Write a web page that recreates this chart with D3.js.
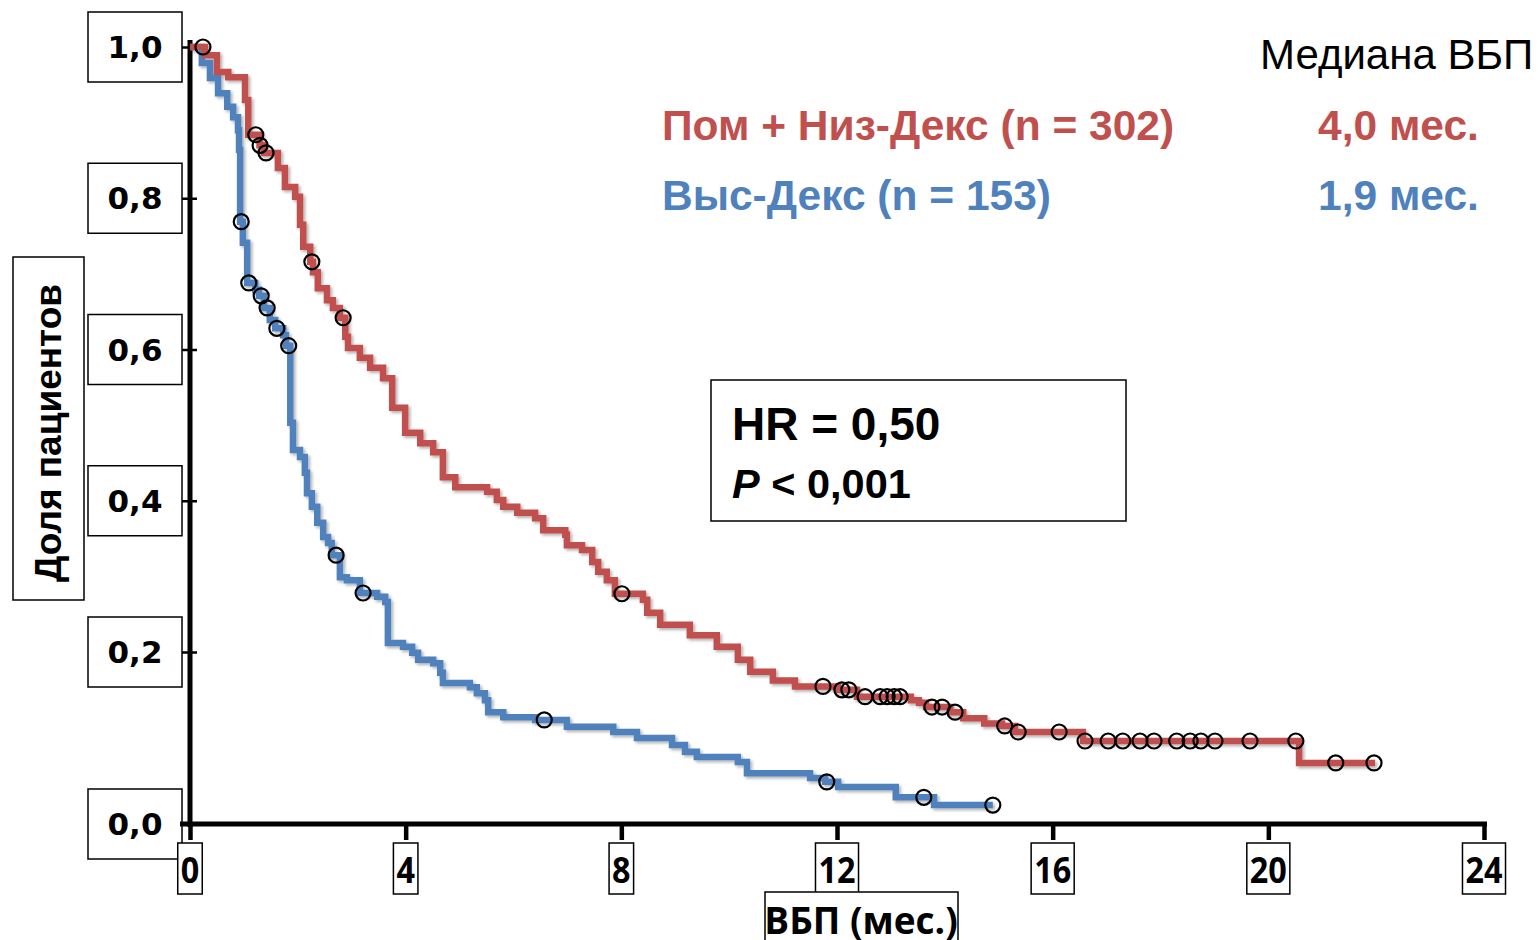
<!DOCTYPE html>
<html><head><meta charset="utf-8">
<script src="https://cdn.jsdelivr.net/npm/d3@7"></script>
<style>
html,body{margin:0;padding:0;background:#fff;}
svg{display:block;}
</style></head>
<body>
<svg id="chart" width="1539" height="940"></svg>
<script>
// ---- data ----
const xTicks = [0, 4, 8, 12, 16, 20, 24];
const yTicks = [0, 0.2, 0.4, 0.6, 0.8, 1.0];
const yTickLabels = ["0,0", "0,2", "0,4", "0,6", "0,8", "1,0"];

const redName = "Пом + Низ-Декс (n = 302)";
const redMedian = "4,0 мес.";
const redTimes = [0, 0.28, 0.50, 0.71, 1.02, 1.08, 1.29, 1.37, 1.63, 1.76, 1.95, 2.04, 2.10, 2.23, 2.28, 2.37, 2.54, 2.65, 2.78, 2.88, 2.93, 3.15, 3.34, 3.58, 3.75, 3.99, 4.27, 4.51, 4.69, 4.92, 5.51, 5.69, 5.81, 6.07, 6.40, 6.55, 6.96, 6.99, 7.27, 7.46, 7.57, 7.73, 7.88, 8.40, 8.48, 8.72, 9.27, 9.77, 10.16, 10.39, 10.81, 11.22, 12.02, 12.37, 13.37, 13.52, 13.65, 14.10, 14.34, 14.73, 15.06, 15.30, 16.56, 20.57];
const redSurv = [1.0, 0.989, 0.967, 0.960, 0.930, 0.884, 0.870, 0.860, 0.840, 0.815, 0.802, 0.765, 0.736, 0.716, 0.702, 0.681, 0.665, 0.655, 0.642, 0.617, 0.602, 0.589, 0.576, 0.562, 0.523, 0.490, 0.476, 0.464, 0.431, 0.418, 0.412, 0.401, 0.392, 0.384, 0.377, 0.361, 0.355, 0.341, 0.335, 0.319, 0.306, 0.295, 0.277, 0.269, 0.252, 0.236, 0.222, 0.207, 0.191, 0.177, 0.167, 0.160, 0.156, 0.148, 0.144, 0.141, 0.136, 0.130, 0.123, 0.117, 0.114, 0.107, 0.0965, 0.071];
const redEnd = 21.98;
const redCensor = [0.24, 1.22, 1.30, 1.41, 2.26, 2.84, 8.01, 11.74, 12.09, 12.22, 12.52, 12.80, 12.93, 13.06, 13.17, 13.76, 13.95, 14.19, 15.11, 15.36, 16.12, 16.60, 17.03, 17.30, 17.62, 17.88, 18.30, 18.55, 18.75, 19.01, 19.66, 20.51, 21.25, 21.96];

const blueName = "Выс-Декс (n = 153)";
const blueMedian = "1,9 мес.";
const blueTimes = [0, 0.22, 0.37, 0.52, 0.69, 0.80, 0.89, 0.91, 0.93, 0.98, 1.06, 1.21, 1.28, 1.37, 1.48, 1.58, 1.73, 1.78, 1.86, 1.91, 2.04, 2.13, 2.17, 2.26, 2.36, 2.47, 2.56, 2.63, 2.78, 2.91, 3.15, 3.47, 3.62, 3.67, 3.95, 4.12, 4.23, 4.51, 4.64, 4.69, 5.19, 5.32, 5.47, 5.53, 5.81, 6.40, 6.99, 7.85, 8.29, 8.94, 9.18, 9.40, 10.16, 10.33, 11.50, 11.78, 12.02, 13.09, 13.80];
const blueSurv = [1.0, 0.979, 0.959, 0.939, 0.921, 0.907, 0.890, 0.864, 0.769, 0.741, 0.688, 0.679, 0.671, 0.655, 0.639, 0.628, 0.619, 0.605, 0.503, 0.467, 0.458, 0.437, 0.410, 0.392, 0.371, 0.352, 0.344, 0.328, 0.299, 0.295, 0.278, 0.273, 0.266, 0.212, 0.207, 0.199, 0.191, 0.187, 0.176, 0.164, 0.159, 0.152, 0.144, 0.130, 0.124, 0.121, 0.113, 0.107, 0.100, 0.092, 0.084, 0.078, 0.072, 0.059, 0.0535, 0.049, 0.043, 0.031, 0.022];
const blueEnd = 14.89;
const blueCensor = [0.95, 1.09, 1.32, 1.43, 1.61, 1.83, 2.71, 3.21, 6.57, 11.81, 13.61, 14.89];

const medianTitle = "Медиана ВБП";
const hrText = "HR = 0,50";
const pText = "< 0,001";
const yTitle = "Доля пациентов";
const xTitle = "ВБП (мес.)";

// ---- drawing ----
const RED = "#c0504d", BLUE = "#4f81bd";
const svg = d3.select("#chart");
const x = d3.scaleLinear().domain([0, 24]).range([190, 1484]);
const y = d3.scaleLinear().domain([0, 0.2, 1]).range([824, 652, 47]);

const defs = svg.append("defs");
const f = defs.append("filter").attr("id", "sh").attr("x", "-5%").attr("y", "-5%").attr("width", "110%").attr("height", "110%");
f.append("feDropShadow").attr("dx", 2).attr("dy", 2).attr("stdDeviation", 1.5).attr("flood-color", "#000").attr("flood-opacity", 0.3);

const sans = "'Liberation Sans',Arial,sans-serif";
const open = "'Open Sans',sans-serif";

// Y axis
const yAxis = d3.axisLeft(y).tickValues(yTicks).tickSizeInner(12).tickSizeOuter(0).tickFormat("");
const gy = svg.append("g").attr("transform", "translate(192,0)").call(yAxis);
gy.select(".domain").remove();
gy.selectAll(".tick line").attr("stroke", "#000").attr("stroke-width", 2.5).attr("x2", -14).attr("x1", 5);
svg.append("line").attr("x1", 190).attr("x2", 190).attr("y1", 40).attr("y2", 827).attr("stroke", "#000").attr("stroke-width", 5);

// Y tick label boxes
const yl = svg.append("g");
yTicks.forEach((v, i) => {
  const cy = y(v);
  yl.append("rect").attr("x", 88).attr("y", cy - 35).attr("width", 94).attr("height", 70)
    .attr("fill", "#fff").attr("stroke", "#000").attr("stroke-width", 1.5);
  yl.append("text").attr("x", 135).attr("y", cy).attr("dy", "0.36em").attr("text-anchor", "middle")
    .attr("font-family", "'DejaVu Sans',Verdana,sans-serif").attr("font-weight", "bold").attr("font-size", 31)
    .text(yTickLabels[i]);
});

// X axis
const xAxis = d3.axisBottom(x).tickValues(xTicks).tickSizeInner(16).tickSizeOuter(0).tickFormat("");
const gx = svg.append("g").attr("transform", "translate(0,824)").call(xAxis);
gx.select(".domain").remove();
gx.selectAll(".tick line").attr("stroke", "#000").attr("stroke-width", 4.5);
svg.append("line").attr("x1", 180).attr("x2", 1487).attr("y1", 824).attr("y2", 824).attr("stroke", "#000").attr("stroke-width", 5);

const xl = svg.append("g");
xTicks.forEach(t => {
  const g = xl.append("g").attr("transform", `translate(${x(t)},0)`);
  const tx = g.append("text").attr("x", 0).attr("y", 883).attr("text-anchor", "middle")
    .attr("transform", "scale(0.9,1)")
    .attr("font-family", open).attr("font-weight", "bold").attr("font-size", 36).text(t);
  const w = tx.node().getComputedTextLength() * 0.9;
  g.insert("rect", "text").attr("x", -w / 2 - 3).attr("y", 843).attr("width", w + 6).attr("height", 51)
    .attr("fill", "#fff").attr("stroke", "#000").attr("stroke-width", 1.5);
});

// axis titles
svg.append("rect").attr("x", 13).attr("y", 257).attr("width", 71).attr("height", 343)
  .attr("fill", "#fff").attr("stroke", "#000").attr("stroke-width", 1.5);
svg.append("text").attr("transform", "translate(61,433) rotate(-90)").attr("text-anchor", "middle")
  .attr("font-family", sans).attr("font-weight", "bold").attr("font-size", 37).text(yTitle);

svg.append("rect").attr("x", 765).attr("y", 892).attr("width", 193).attr("height", 60)
  .attr("fill", "#fff").attr("stroke", "#000").attr("stroke-width", 1.5);
svg.append("text").attr("x", 861).attr("y", 934).attr("text-anchor", "middle")
  .attr("font-family", open).attr("font-weight", "bold").attr("font-size", 37).text(xTitle);

// curves
function series(times, surv, end) {
  const pts = times.map((t, i) => [t, surv[i]]);
  pts.push([end, surv[surv.length - 1]]);
  return pts;
}
function survAt(times, surv, t) {
  const i = d3.bisectRight(times, t) - 1;
  return surv[Math.max(0, i)];
}
const line = d3.line().x(d => x(d[0])).y(d => y(d[1])).curve(d3.curveStepAfter);
const curves = svg.append("g").attr("filter", "url(#sh)");
curves.append("path").datum(series(blueTimes, blueSurv, blueEnd)).attr("d", line)
  .attr("fill", "none").attr("stroke", BLUE).attr("stroke-width", 6.5).attr("stroke-linejoin", "miter");
curves.append("path").datum(series(redTimes, redSurv, redEnd)).attr("d", line)
  .attr("fill", "none").attr("stroke", RED).attr("stroke-width", 6.5).attr("stroke-linejoin", "miter");

const cg = svg.append("g");
cg.selectAll("circle.r").data(redCensor).join("circle").attr("class", "r")
  .attr("cx", d => x(d)).attr("cy", d => y(survAt(redTimes, redSurv, d))).attr("r", 7.5)
  .attr("fill", "none").attr("stroke", "#000").attr("stroke-width", 2.2);
cg.selectAll("circle.b").data(blueCensor).join("circle").attr("class", "b")
  .attr("cx", d => x(d)).attr("cy", d => y(survAt(blueTimes, blueSurv, d))).attr("r", 7.5)
  .attr("fill", "none").attr("stroke", "#000").attr("stroke-width", 2.2);

// legend / medians
svg.append("text").attr("x", 1260).attr("y", 69).attr("font-family", sans).attr("font-size", 42).attr("fill", "#000").text(medianTitle);
svg.append("text").attr("x", 662).attr("y", 140).attr("font-family", sans).attr("font-weight", "bold").attr("font-size", 42.5).attr("fill", RED).text(redName);
svg.append("text").attr("x", 1318).attr("y", 140).attr("font-family", sans).attr("font-weight", "bold").attr("font-size", 42.5).attr("fill", RED).text(redMedian);
svg.append("text").attr("x", 662).attr("y", 210).attr("font-family", sans).attr("font-weight", "bold").attr("font-size", 42.5).attr("fill", BLUE).text(blueName);
svg.append("text").attr("x", 1318).attr("y", 210).attr("font-family", sans).attr("font-weight", "bold").attr("font-size", 42.5).attr("fill", BLUE).text(blueMedian);

// HR box
svg.append("rect").attr("x", 711).attr("y", 380).attr("width", 415).attr("height", 141)
  .attr("fill", "#fff").attr("stroke", "#000").attr("stroke-width", 1.5);
svg.append("text").attr("x", 732).attr("y", 440).attr("font-family", sans).attr("font-weight", "bold").attr("font-size", 46).text(hrText);
const pt = svg.append("text").attr("x", 732).attr("y", 498).attr("font-family", sans).attr("font-weight", "bold").attr("font-size", 41.5);
pt.append("tspan").attr("font-style", "italic").text("P");
pt.append("tspan").text(" " + pText);
</script>
</body></html>
